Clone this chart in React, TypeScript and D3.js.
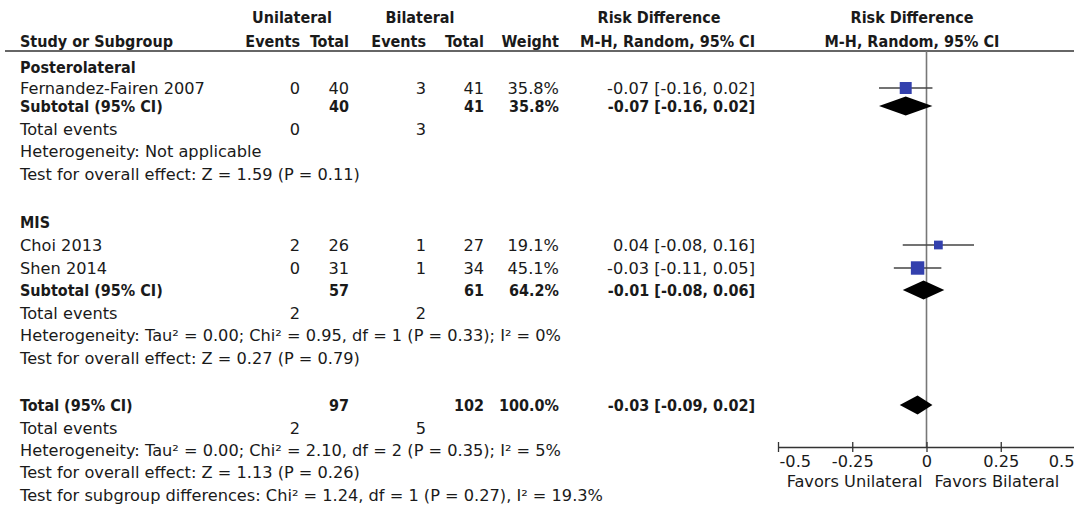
import React, { useEffect, useRef } from "react";
import * as d3 from "d3";

// study level data
const studies = ["Fernandez-Fairen 2007", "Choi 2013", "Shen 2014"];
const studyGroup = [0, 1, 1];
const uniEvents = [0, 2, 0];
const uniTotal = [40, 26, 31];
const biEvents = [3, 1, 1];
const biTotal = [41, 27, 34];
const weights = [35.8, 19.1, 45.1];
const rd = [-0.07, 0.04, -0.03];
const rdLo = [-0.16, -0.08, -0.11];
const rdHi = [0.02, 0.16, 0.05];

// subgroups
const subgroups = ["Posterolateral", "MIS"];
const subUniTotal = [40, 57];
const subBiTotal = [41, 61];
const subUniEvents = [0, 2];
const subBiEvents = [3, 2];
const subWeight = [35.8, 64.2];
const subRd = [-0.07, -0.01];
const subLo = [-0.16, -0.08];
const subHi = [0.02, 0.06];
const subHetero = [
  "Heterogeneity: Not applicable",
  "Heterogeneity: Tau² = 0.00; Chi² = 0.95, df = 1 (P = 0.33); I² = 0%",
];
const subEffect = [
  "Test for overall effect: Z = 1.59 (P = 0.11)",
  "Test for overall effect: Z = 0.27 (P = 0.79)",
];

// overall
const totalUni = 97;
const totalBi = 102;
const totalUniEvents = 2;
const totalBiEvents = 5;
const totalWeight = 100.0;
const totalRd = -0.03;
const totalLo = -0.09;
const totalHi = 0.02;
const totalHetero = "Heterogeneity: Tau² = 0.00; Chi² = 2.10, df = 2 (P = 0.35); I² = 5%";
const totalEffect = "Test for overall effect: Z = 1.13 (P = 0.26)";
const subgroupDiff = "Test for subgroup differences: Chi² = 1.24, df = 1 (P = 0.27), I² = 19.3%";

const xTicks = [-0.5, -0.25, 0, 0.25, 0.5];
const favorsLeft = "Favors Unilateral";
const favorsRight = "Favors Bilateral";

const W = 1074;
const H = 507;
const FONT = "'DejaVu Sans', sans-serif";
const FONTB = "'DejaVu Sans Condensed', 'DejaVu Sans', sans-serif";
const FS = 16.2; // regular
const FSB = 16; // bold (condensed face)

// column right edges
const col = { name: 20, ue: 300, ut: 349, be: 426, bt: 484, w: 559, ci: 755 };

// hyphen minus like the original
const f2 = (v: number) => d3.format(".2f")(v).replace("−", "-");
const pct = (v: number) => d3.format(".1f")(v) + "%";
const ciText = (m: number, l: number, h: number) => `${f2(m)} [${f2(l)}, ${f2(h)}]`;

type Row = {
  y: number;
  label: string;
  bold?: boolean;
  ue?: string;
  ut?: string;
  be?: string;
  bt?: string;
  w?: string;
  ci?: string;
  mark?: "square" | "diamond";
  m?: number;
  lo?: number;
  hi?: number;
  wt?: number;
};

// row centres (layout)
const ySlots = [67, 88, 106, 129, 151, 174, 222, 245, 268, 290, 313, 335, 358, 405, 428, 450, 472, 495];

function buildRows(): Row[] {
  const rows: Row[] = [];
  let s = 0;
  subgroups.forEach((g, gi) => {
    rows.push({ y: ySlots[s++], label: g, bold: true });
    studies.forEach((name, i) => {
      if (studyGroup[i] !== gi) return;
      rows.push({
        y: ySlots[s++],
        label: name,
        ue: String(uniEvents[i]),
        ut: String(uniTotal[i]),
        be: String(biEvents[i]),
        bt: String(biTotal[i]),
        w: pct(weights[i]),
        ci: ciText(rd[i], rdLo[i], rdHi[i]),
        mark: "square",
        m: rd[i],
        lo: rdLo[i],
        hi: rdHi[i],
        wt: weights[i],
      });
    });
    rows.push({
      y: ySlots[s++],
      label: "Subtotal (95% CI)",
      bold: true,
      ut: String(subUniTotal[gi]),
      bt: String(subBiTotal[gi]),
      w: pct(subWeight[gi]),
      ci: ciText(subRd[gi], subLo[gi], subHi[gi]),
      mark: "diamond",
      m: subRd[gi],
      lo: subLo[gi],
      hi: subHi[gi],
    });
    rows.push({ y: ySlots[s++], label: "Total events", ue: String(subUniEvents[gi]), be: String(subBiEvents[gi]) });
    rows.push({ y: ySlots[s++], label: subHetero[gi] });
    rows.push({ y: ySlots[s++], label: subEffect[gi] });
  });
  rows.push({
    y: ySlots[s++],
    label: "Total (95% CI)",
    bold: true,
    ut: String(totalUni),
    bt: String(totalBi),
    w: pct(totalWeight),
    ci: ciText(totalRd, totalLo, totalHi),
    mark: "diamond",
    m: totalRd,
    lo: totalLo,
    hi: totalHi,
  });
  rows.push({ y: ySlots[s++], label: "Total events", ue: String(totalUniEvents), be: String(totalBiEvents) });
  rows.push({ y: ySlots[s++], label: totalHetero });
  rows.push({ y: ySlots[s++], label: totalEffect });
  rows.push({ y: ySlots[s++], label: subgroupDiff });
  return rows;
}

export default function App() {
  const axisRef = useRef<SVGGElement>(null);
  const x = d3.scaleLinear().domain([-0.5, 0.5]).range([778, 1075]);
  const sq = d3.scaleSqrt().domain([0, 100]).range([0, 20]);
  const axisY = 447;
  const headerLine = 51;
  const rows = buildRows();

  useEffect(() => {
    const g = d3.select(axisRef.current);
    g.selectAll("*").remove();
    g.call(
      d3
        .axisBottom(x)
        .tickValues(xTicks)
        .tickFormat(((d: number) => d3.format("")(d).replace("−", "-")) as any)
        .tickSizeInner(5)
        .tickSizeOuter(0)
    );
    g.select(".domain").attr("stroke", "#333").attr("stroke-width", 1.3);
    g.selectAll(".tick line").attr("stroke", "#333").attr("stroke-width", 1.3).attr("y1", -5);
    g.selectAll<SVGTextElement, number>(".tick text")
      .attr("font-family", FONT)
      .attr("font-size", FS)
      .attr("fill", "#1a1a1a")
      .attr("y", 8)
      .attr("text-anchor", (d) => (d === xTicks[0] ? "start" : d === xTicks[xTicks.length - 1] ? "end" : "middle"))
      .attr("x", (d) => (d === xTicks[xTicks.length - 1] ? -1 : d === xTicks[0] ? 1 : 0));
  }, []);

  const txt = (s: string | undefined, xx: number, y: number, bold?: boolean, anchor = "end") =>
    s === undefined ? null : (
      <text
        x={xx}
        y={y + 5.5}
        textAnchor={anchor}
        fontWeight={bold ? "bold" : "normal"}
        fontFamily={bold ? FONTB : FONT}
        fontSize={bold ? FSB : FS}
      >
        {s}
      </text>
    );

  return (
    <div style={{ position: "absolute", left: 0, top: 0 }}>
      <svg width={W} height={H} style={{ display: "block", background: "#fff" }}>
        <g fontFamily={FONT} fontSize={FS} fill="#1a1a1a">
          {/* headers */}
          <g fontWeight="bold" fontSize={FSB} fontFamily={FONTB}>
            <text x={292} y={23} textAnchor="middle">Unilateral</text>
            <text x={420} y={23} textAnchor="middle">Bilateral</text>
            <text x={659} y={23} textAnchor="middle">Risk Difference</text>
            <text x={912} y={23} textAnchor="middle">Risk Difference</text>
            <text x={col.name} y={47}>Study or Subgroup</text>
            <text x={col.ue} y={47} textAnchor="end">Events</text>
            <text x={col.ut} y={47} textAnchor="end">Total</text>
            <text x={col.be} y={47} textAnchor="end">Events</text>
            <text x={col.bt} y={47} textAnchor="end">Total</text>
            <text x={col.w} y={47} textAnchor="end">Weight</text>
            <text x={col.ci} y={47} textAnchor="end">M-H, Random, 95% CI</text>
            <text x={912} y={47} textAnchor="middle">M-H, Random, 95% CI</text>
          </g>
          <line x1={5} x2={W} y1={headerLine} y2={headerLine} stroke="#666" strokeWidth={2} />

          {rows.map((r, i) => (
            <g key={i}>
              {txt(r.label, col.name, r.y, r.bold, "start")}
              {txt(r.ue, col.ue, r.y, r.bold)}
              {txt(r.ut, col.ut, r.y, r.bold)}
              {txt(r.be, col.be, r.y, r.bold)}
              {txt(r.bt, col.bt, r.y, r.bold)}
              {txt(r.w, col.w, r.y, r.bold)}
              {txt(r.ci, col.ci, r.y, r.bold)}
            </g>
          ))}
        </g>

        {/* zero line */}
        <line x1={x(0)} x2={x(0)} y1={headerLine} y2={axisY} stroke="#777" strokeWidth={1.6} />

        {/* marks */}
        {rows
          .filter((r) => r.mark)
          .map((r, i) =>
            r.mark === "square" ? (
              <g key={i}>
                <line x1={x(r.lo!)} x2={x(r.hi!)} y1={r.y} y2={r.y} stroke="#444" strokeWidth={1.4} />
                <rect
                  x={x(r.m!) - sq(r.wt!) / 2}
                  y={r.y - sq(r.wt!) / 2}
                  width={sq(r.wt!)}
                  height={sq(r.wt!)}
                  fill="#3340ad"
                />
              </g>
            ) : (
              <polygon
                key={i}
                points={[
                  [x(r.lo!), r.y],
                  [x(r.m!), r.y - 9.5],
                  [x(r.hi!), r.y],
                  [x(r.m!), r.y + 9.5],
                ]
                  .map((p) => p.join(","))
                  .join(" ")}
                fill="#000"
              />
            )
          )}

        <g ref={axisRef} transform={`translate(0,${axisY})`} />
        <g fontFamily={FONT} fontSize={FS} fill="#1a1a1a">
          <text x={x(0) - 4} y={487} textAnchor="end">{favorsLeft}</text>
          <text x={x(0) + 8} y={487} textAnchor="start">{favorsRight}</text>
        </g>
      </svg>
    </div>
  );
}
